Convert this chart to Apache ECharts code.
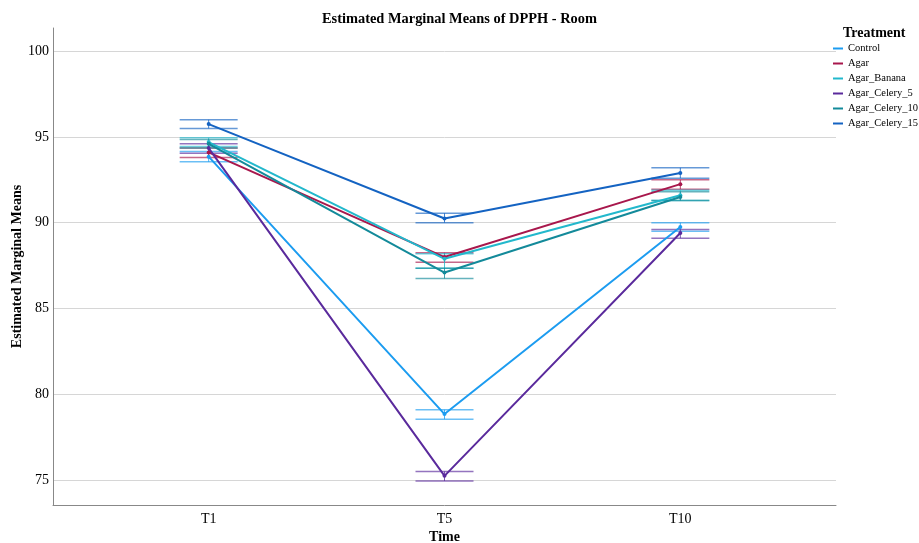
<!DOCTYPE html>
<html>
<head>
<meta charset="utf-8">
<script src="https://cdn.jsdelivr.net/npm/echarts@6/dist/echarts.min.js"></script>
<style>html,body{margin:0;padding:0;background:#fff}#c{width:919px;height:543px}</style>
</head>
<body>
<div id="c"></div>
<script>
var timeLabels = ['T1', 'T5', 'T10'];
var timePos = [1, 2, 3];
var yTicks = [75, 80, 85, 90, 95, 100];
var seriesNames = ['Control', 'Agar', 'Agar_Banana', 'Agar_Celery_5', 'Agar_Celery_10', 'Agar_Celery_15'];
var colors = ['#1c9cf0', '#a8174c', '#22b8cc', '#5a2a9c', '#138a9a', '#1463c2'];

var controlMean = [93.85, 78.85, 89.75];
var controlLow  = [93.55, 78.55, 89.5];
var controlHigh = [94.15, 79.1, 90.0];

var agarMean = [94.1, 88.0, 92.25];
var agarLow  = [93.8, 87.7, 91.95];
var agarHigh = [94.35, 88.25, 92.5];

var bananaMean = [94.7, 87.9, 91.6];
var bananaLow  = [94.45, 87.35, 91.3];
var bananaHigh = [94.95, 88.2, 91.9];

var celery5Mean = [94.35, 75.25, 89.4];
var celery5Low  = [94.05, 74.95, 89.1];
var celery5High = [94.6, 75.5, 89.6];

var celery10Mean = [94.6, 87.1, 91.5];
var celery10Low  = [94.35, 86.75, 91.3];
var celery10High = [94.85, 87.35, 91.8];

var celery15Mean = [95.75, 90.25, 92.9];
var celery15Low  = [95.5, 90.0, 92.6];
var celery15High = [96.0, 90.55, 93.2];

var means = [controlMean, agarMean, bananaMean, celery5Mean, celery10Mean, celery15Mean];
var lows = [controlLow, agarLow, bananaLow, celery5Low, celery10Low, celery15Low];
var highs = [controlHigh, agarHigh, bananaHigh, celery5High, celery10High, celery15High];

var serif = '"Liberation Serif", "Times New Roman", serif';
var chart = echarts.init(document.getElementById('c'));

function errRender(color) {
  return function (params, api) {
    var x = api.value(0), lo = api.value(1), hi = api.value(2);
    var pHi = api.coord([x, hi]);
    var pLo = api.coord([x, lo]);
    var hw = 29;
    var st = { stroke: color, lineWidth: 1.5, opacity: 0.65 };
    return {
      type: 'group',
      children: [
        { type: 'line', shape: { x1: pHi[0] - hw, y1: pHi[1], x2: pHi[0] + hw, y2: pHi[1] }, style: st },
        { type: 'line', shape: { x1: pLo[0] - hw, y1: pLo[1], x2: pLo[0] + hw, y2: pLo[1] }, style: st },
        { type: 'line', shape: { x1: pHi[0], y1: pHi[1], x2: pLo[0], y2: pLo[1] }, style: { stroke: color, lineWidth: 1, opacity: 0.8 } }
      ]
    };
  };
}

var series = [];
seriesNames.forEach(function (name, i) {
  var errData = timePos.map(function (x, j) { return [x, lows[i][j], highs[i][j]]; });
  series.push({
    name: name,
    type: 'custom',
    renderItem: errRender(colors[i]),
    data: errData,
    silent: true,
    z: 2
  });
});
seriesNames.forEach(function (name, i) {
  series.push({
    name: name,
    type: 'line',
    data: timePos.map(function (x, j) { return [x, means[i][j]]; }),
    symbol: 'circle',
    symbolSize: 4,
    lineStyle: { color: colors[i], width: 2 },
    itemStyle: { color: colors[i] },
    z: 3
  });
});

chart.setOption({
  animation: false,
  color: colors,
  title: [
    { text: 'Estimated Marginal Means of DPPH - Room', left: 'center', top: 7,
      textStyle: { fontFamily: serif, fontSize: 14.4, fontWeight: 'bold', color: '#000' } },
    { text: 'Treatment', left: 838, top: 21,
      textStyle: { fontFamily: serif, fontSize: 14, fontWeight: 'bold', color: '#000' } }
  ],
  legend: {
    data: seriesNames,
    orient: 'vertical',
    left: 833,
    top: 43,
    padding: 0,
    icon: 'rect',
    itemWidth: 10,
    itemHeight: 2,
    itemGap: 4,
    textStyle: { fontFamily: serif, fontSize: 10.5, color: '#000' }
  },
  grid: { left: 53, right: 83, top: 28, bottom: 38, containLabel: false, outerBoundsMode: 'none' },
  xAxis: {
    type: 'value',
    min: 0.34,
    max: 3.66,
    name: 'Time',
    nameLocation: 'middle',
    nameGap: 25,
    nameMoveOverlap: false,
    nameTextStyle: { fontFamily: serif, fontSize: 14, fontWeight: 'bold', color: '#000' },
    axisLine: { lineStyle: { color: '#888', width: 1 } },
    axisTick: { show: false, customValues: timePos },
    splitLine: { show: false },
    axisLabel: {
      customValues: timePos,
      margin: 7,
      fontFamily: serif, fontSize: 14, color: '#000',
      formatter: function (v) { var k = timePos.indexOf(v); return k >= 0 ? timeLabels[k] : ''; }
    }
  },
  yAxis: {
    type: 'value',
    min: 73.55,
    max: 101.35,
    name: 'Estimated Marginal Means',
    nameLocation: 'middle',
    nameGap: 29,
    nameMoveOverlap: false,
    nameTextStyle: { fontFamily: serif, fontSize: 14, fontWeight: 'bold', color: '#000' },
    axisLine: { show: true, lineStyle: { color: '#888', width: 1 } },
    axisTick: { show: false, customValues: yTicks },
    splitLine: { show: true, lineStyle: { color: '#d6d6d6', width: 1 } },
    axisLabel: { customValues: yTicks, margin: 4, fontFamily: serif, fontSize: 14, color: '#000' }
  },
  series: series
});
</script>
</body>
</html>
